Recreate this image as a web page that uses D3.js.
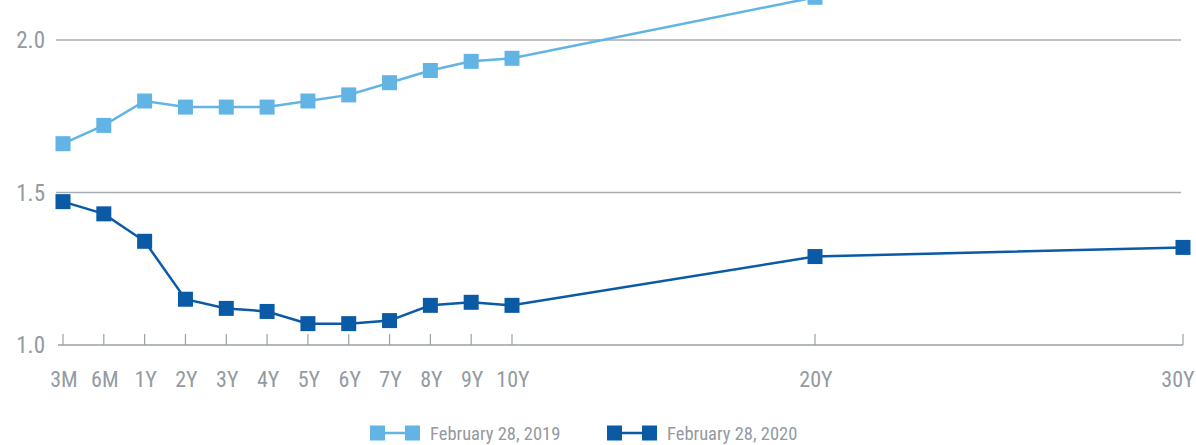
<!DOCTYPE html>
<html>
<head>
<meta charset="utf-8">
<script src="https://cdn.jsdelivr.net/npm/d3@7"></script>
<style>
  body { margin: 0; background: #fff; }
  svg text { font-family: "Roboto Condensed", "Liberation Sans Narrow", "DejaVu Sans Condensed", Roboto, sans-serif; fill: #939aa1; }
</style>
</head>
<body>
<div id="chart"></div>
<script>
const categories = ["3M", "6M", "1Y", "2Y", "3Y", "4Y", "5Y", "6Y", "7Y", "8Y", "9Y", "10Y", "20Y", "30Y"];
const series2019 = [1.66, 1.72, 1.80, 1.78, 1.78, 1.78, 1.80, 1.82, 1.86, 1.90, 1.93, 1.94, 2.14, 2.35];
const series2020 = [1.47, 1.43, 1.34, 1.15, 1.12, 1.11, 1.07, 1.07, 1.08, 1.13, 1.14, 1.13, 1.29, 1.32];
const yTicks = [1.0, 1.5, 2.0];
const legendLabels = ["February 28, 2019", "February 28, 2020"];

const width = 1196, height = 445;
const colors = ["#62b4e5", "#0a5aa6"];

const svg = d3.select("#chart").append("svg")
    .attr("width", width)
    .attr("height", height);

// categories 3M..10Y evenly spaced, then 20Y and 30Y further out
const x = d3.scaleLinear()
    .domain([0, 11, 12, 13])
    .range([63, 512, 815, 1183]);

const y = d3.scaleLinear()
    .domain([1, 2])
    .range([345, 40]);

// grid lines
svg.append("g")
    .selectAll("line")
    .data(yTicks.filter(d => d > 1))
    .enter().append("line")
    .attr("x1", 56)
    .attr("x2", 1181)
    .attr("y1", d => y(d))
    .attr("y2", d => y(d))
    .attr("stroke", "#a6abb0")
    .attr("stroke-width", 1.3);

// y labels
svg.append("g")
    .selectAll("text")
    .data(yTicks)
    .enter().append("text")
    .attr("x", 45)
    .attr("y", d => y(d))
    .attr("dy", "0.36em")
    .attr("text-anchor", "end")
    .style("font-size", "23px")
    .text(d => d.toFixed(1));

// x axis with upward ticks
const xAxis = svg.append("g").attr("class", "x axis");
xAxis.append("line")
    .attr("x1", 58)
    .attr("x2", 1183)
    .attr("y1", y(1))
    .attr("y2", y(1))
    .attr("stroke", "#9aa0a6")
    .attr("stroke-width", 1.3);
xAxis.selectAll(".tick")
    .data(categories)
    .enter().append("line")
    .attr("class", "tick")
    .attr("x1", (d, i) => x(i))
    .attr("x2", (d, i) => x(i))
    .attr("y1", y(1))
    .attr("y2", y(1) - 11)
    .attr("stroke", "#9aa0a6")
    .attr("stroke-width", 1.2);
xAxis.selectAll(".label")
    .data(categories)
    .enter().append("text")
    .attr("class", "label")
    .attr("x", (d, i) => x(i) + (i === categories.length - 1 ? -5 : 1))
    .attr("y", 387)
    .attr("text-anchor", "middle")
    .style("font-size", "22px")
    .text(d => d);

const line = d3.line()
    .x((d, i) => x(i))
    .y(d => y(d));

[series2019, series2020].forEach((values, k) => {
    svg.append("path")
        .datum(values)
        .attr("fill", "none")
        .attr("stroke", colors[k])
        .attr("stroke-width", 2.5)
        .attr("d", line);

    svg.append("g")
        .selectAll("rect")
        .data(values)
        .enter().append("rect")
        .attr("x", (d, i) => x(i) - 7.5)
        .attr("y", d => y(d) - 7.5)
        .attr("width", 15)
        .attr("height", 15)
        .attr("fill", colors[k]);
});

// legend
const legend = svg.append("g");
const legendX = [370, 607];
legendLabels.forEach((label, k) => {
    const g = legend.append("g").attr("transform", "translate(" + legendX[k] + ",433)");
    g.append("line")
        .attr("x1", 7).attr("x2", 43)
        .attr("stroke", colors[k]).attr("stroke-width", 2.5);
    g.append("rect").attr("x", 0).attr("y", -7.5).attr("width", 15).attr("height", 15).attr("fill", colors[k]);
    g.append("rect").attr("x", 35).attr("y", -7.5).attr("width", 15).attr("height", 15).attr("fill", colors[k]);
    g.append("text")
        .attr("x", 60)
        .attr("dy", "0.36em")
        .style("font-size", "18.5px")
        .text(label);
});
</script>
</body>
</html>
